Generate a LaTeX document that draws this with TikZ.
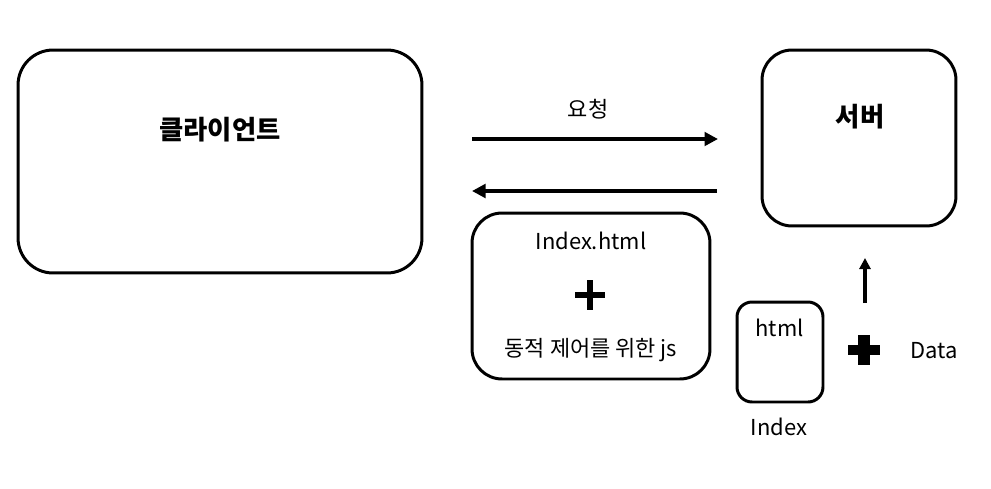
\documentclass[tikz,border=0pt]{standalone}
\usepackage{fontspec}
\setmainfont{Noto Sans CJK KR}
\usetikzlibrary{arrows.meta,positioning,calc}
\tikzset{>=latex}
\tikzset{
  box/.style={draw,line width=1.7pt,rounded corners=#1},
  lbl/.style={font=\fontsize{12.5}{15}\selectfont,inner sep=0pt},
  title/.style={font=\fontsize{15}{18}\selectfont\bfseries,inner sep=0pt},
  flow/.style={line width=2.3pt,-{Triangle[length=0.27cm,width=0.27cm]}},
}

\begin{document}
\begin{tikzpicture}[x=0.02cm,y=-0.02cm]
  \useasboundingbox (0,0) rectangle (991,488);
  % boxes
  \node[box=0.7cm,minimum width=8.08cm,minimum height=4.46cm] (client) at (220,161.5) {};
  \node[box=0.6cm,minimum width=3.88cm,minimum height=3.52cm] (server) at (859,138) {};
  \node[box=0.6cm,minimum width=4.76cm,minimum height=3.32cm] (bundle) at (591,296) {};
  \node[box=0.3cm,minimum width=1.72cm,minimum height=2cm] (page) at (780,352) {};
  % texts
  \node[title] (clientname) at (220,130) {클라이언트};
  \node[title] (servername) at (860,117) {서버};
  \node[lbl] (req) at (588,109) {요청};
  \node[lbl] (indexhtml) at (591,241) {Index.html};
  \node[lbl] (js) at (591,350) {동적 제어를 위한 js};
  \node[lbl] (pagename) at (779.5,328) {html};
  \node[lbl] (index) at (779,427) {Index};
  \node[lbl] (data) at (934,351) {Data};
  % arrows
  \coordinate (reqA) at (472,139);
  \coordinate (reqB) at (718,139);
  \coordinate (resA) at (717,191);
  \coordinate (resB) at (472,191);
  \draw[flow] (reqA) -- (reqB);
  \draw[flow] (resA) -- (resB);
  \coordinate (upA) at (865,303);
  \coordinate (upB) at (865,258);
  \draw[line width=1.8pt,-{Triangle[length=0.22cm,width=0.22cm]}] (upA) -- (upB);
  % plus signs
  \coordinate (plus) at (590,295);
  \draw[line width=2.9pt] ($(plus)+(-15,0)$) -- ($(plus)+(15,0)$)
    ($(plus)+(0,-15)$) -- ($(plus)+(0,15)$);
  \coordinate (bigplus) at (864,350);
  \draw[line width=5.8pt] ($(bigplus)+(-16,0)$) -- ($(bigplus)+(16,0)$);
  \draw[line width=6.6pt] ($(bigplus)+(0,-15)$) -- ($(bigplus)+(0,15)$);
\end{tikzpicture}
\end{document}
